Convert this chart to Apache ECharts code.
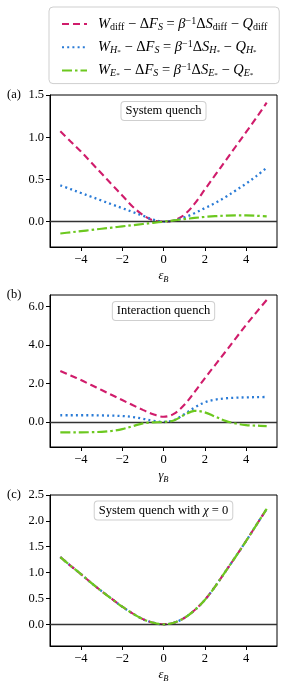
<!DOCTYPE html>
<html><head><meta charset="utf-8">
<script src="https://cdn.jsdelivr.net/npm/echarts@6/dist/echarts.min.js"></script>
<style>html,body{margin:0;padding:0;background:#fff}#c{width:286px;height:688px}</style>
</head><body><div id="c"></div>
<script>
// ---------- data ----------
const xValues = [-5,-4.5,-4,-3.5,-3,-2.5,-2,-1.5,-1,-0.5,0,0.5,1,1.5,2,2.5,3,3.5,4,4.5,5];
// (a) system quench
const aDiff = [1.07,0.95,0.83,0.70,0.57,0.44,0.31,0.18,0.08,0.015,0,0.015,0.08,0.21,0.38,0.55,0.72,0.89,1.06,1.23,1.41];
const aH    = [0.43,0.385,0.34,0.295,0.25,0.205,0.16,0.115,0.07,0.025,0,0.015,0.05,0.10,0.16,0.22,0.29,0.37,0.45,0.54,0.64];
const aE    = [-0.14,-0.126,-0.112,-0.098,-0.084,-0.07,-0.056,-0.042,-0.028,-0.014,0,0.015,0.03,0.044,0.056,0.065,0.071,0.074,0.074,0.07,0.063];
// (b) interaction quench
const bDiff = [2.65,2.42,2.18,1.92,1.66,1.40,1.14,0.88,0.63,0.40,0.27,0.42,0.88,1.55,2.27,2.96,3.65,4.35,5.04,5.70,6.34];
const bH    = [0.35,0.35,0.35,0.35,0.34,0.33,0.31,0.26,0.17,0.06,0.0,0.10,0.40,0.75,1.02,1.16,1.23,1.26,1.28,1.29,1.30];
const bE    = [-0.54,-0.54,-0.54,-0.53,-0.51,-0.46,-0.37,-0.22,-0.07,-0.02,0.0,0.08,0.36,0.58,0.50,0.28,0.06,-0.08,-0.16,-0.19,-0.21];
// (c) system quench with chi = 0 (all three coincide)
const cDiff = [1.30,1.13,0.97,0.80,0.64,0.49,0.34,0.21,0.10,0.03,0,0.03,0.12,0.27,0.47,0.73,1.02,1.31,1.61,1.92,2.23];
const cH    = cDiff.slice();
const cE    = cDiff.slice();
// ticks
const xTicks = [-4,-2,0,2,4];
const aYTicks = [0,0.5,1.0,1.5];
const bYTicks = [0,2,4,6];
const cYTicks = [0,0.5,1.0,1.5,2.0,2.5];
const panelTitles = ['System quench','Interaction quench','System quench with χ = 0'];
const panelLetters = ['(a)','(b)','(c)'];

// ---------- style ----------
const FONT = "'Liberation Serif', 'DejaVu Serif', serif";
const COL = {diff:'#d01c6b', H:'#2a7bd6', E:'#6cc81f'};
const DASH = {diff:[7,4], H:[2,3.2], E:[10,3,2.5,3]};
const WIDTH = {diff:2.1, H:2.3, E:2.2};

const rich = {
  i:{fontFamily:FONT,fontStyle:'italic',fontSize:12.5,lineHeight:16,color:'#000'},
  r:{fontFamily:FONT,fontSize:12.5,lineHeight:16,color:'#000'},
  sb:{fontFamily:FONT,fontSize:8.5,lineHeight:9,verticalAlign:'bottom',color:'#000'},
  sbi:{fontFamily:FONT,fontStyle:'italic',fontSize:8.5,lineHeight:9,verticalAlign:'bottom',color:'#000'},
  sbs:{fontFamily:FONT,fontSize:6.5,lineHeight:12,verticalAlign:'bottom',color:'#000'},
  sp:{fontFamily:FONT,fontSize:8.5,lineHeight:9,verticalAlign:'top',color:'#000'}
};
const richL = {
  i:{fontFamily:FONT,fontStyle:'italic',fontSize:14.5,lineHeight:16,color:'#000'},
  r:{fontFamily:FONT,fontSize:14.5,lineHeight:16,color:'#000'},
  sb:{fontFamily:FONT,fontSize:10,lineHeight:9,verticalAlign:'bottom',color:'#000'},
  sbi:{fontFamily:FONT,fontStyle:'italic',fontSize:10,lineHeight:9,verticalAlign:'bottom',color:'#000'},
  sbs:{fontFamily:FONT,fontSize:7,lineHeight:12,verticalAlign:'bottom',color:'#000'},
  sp:{fontFamily:FONT,fontSize:10,lineHeight:9,verticalAlign:'top',color:'#000'}
};
const legendText = {
  diff:'{i|W}{sb|diff}{r| − Δ}{i|F}{sbi|S}{r| = }{i|β}{sp|−1}{r|Δ}{i|S}{sb|diff}{r| − }{i|Q}{sb|diff}',
  H:'{i|W}{sbi|H}{sbs|*}{r| − Δ}{i|F}{sbi|S}{r| = }{i|β}{sp|−1}{r|Δ}{i|S}{sbi|H}{sbs|*}{r| − }{i|Q}{sbi|H}{sbs|*}',
  E:'{i|W}{sbi|E}{sbs|*}{r| − Δ}{i|F}{sbi|S}{r| = }{i|β}{sp|−1}{r|Δ}{i|S}{sbi|E}{sbs|*}{r| − }{i|Q}{sbi|E}{sbs|*}'
};

const fmtNum = (d) => (v) => (v < 0 ? '−' : '') + Math.abs(v).toFixed(d);

const grids = [
  {top:95, height:152},
  {top:295, height:152},
  {top:495, height:151}
].map(g => ({left:50, width:227, top:g.top, height:g.height, show:true, borderColor:'#000', borderWidth:1}));

const xNames = ['{i|ε}{sbi|B}','{i|γ}{sbi|B}','{i|ε}{sbi|B}'];
const xAxis = [0,1,2].map(i => ({
  gridIndex:i, type:'value', min:-5.5, max:5.5,
  axisLine:{show:true,onZero:false,lineStyle:{color:'#000',width:1}},
  axisTick:{show:true,customValues:xTicks,length:4,lineStyle:{color:'#000',width:1}},
  axisLabel:{customValues:xTicks,formatter:fmtNum(0),margin:6,fontFamily:FONT,fontSize:12.5,color:'#000'},
  splitLine:{show:false},
  name:xNames[i], nameLocation:'middle', nameGap:21,
  nameTextStyle:{rich:rich}
}));
const yCfg = [
  {min:-0.3,max:1.5,ticks:aYTicks,d:1},
  {min:-1.3,max:6.6,ticks:bYTicks,d:1},
  {min:-0.42,max:2.5,ticks:cYTicks,d:1}
];
const yAxis = yCfg.map((c,i) => ({
  gridIndex:i, type:'value', min:c.min, max:c.max,
  axisLine:{show:true,onZero:false,lineStyle:{color:'#000',width:1}},
  axisTick:{show:true,customValues:c.ticks,length:4,lineStyle:{color:'#000',width:1}},
  axisLabel:{customValues:c.ticks,formatter:fmtNum(c.d),margin:6,fontFamily:FONT,fontSize:12.5,color:'#000'},
  splitLine:{show:false}
}));

const panels = [
  {diff:aDiff,H:aH,E:aE},
  {diff:bDiff,H:bH,E:bE},
  {diff:cDiff,H:cH,E:cE}
];
const series = [];
panels.forEach((p,i) => {
  const order = i === 2 ? ['H','diff','E'] : ['diff','H','E'];
  order.forEach((k,j) => {
    const s = {
      name:k, type:'line', xAxisIndex:i, yAxisIndex:i,
      data:xValues.map((x,n)=>[x,p[k][n]]),
      symbol:'none', showSymbol:false, smooth:0.35, silent:true,
      lineStyle:{color:COL[k],width:WIDTH[k],type:DASH[k],cap:'butt'},
      itemStyle:{color:COL[k]},
      z:3+j
    };
    if (j === 0) {
      s.markLine = {silent:true,symbol:'none',label:{show:false},animation:false,
        lineStyle:{color:'#333',width:1.3,type:'solid'},data:[{yAxis:0}]};
    }
    series.push(s);
  });
});

const boxY = [111, 311, 510.5];
const graphic = [];
panelTitles.forEach((t,i) => {
  graphic.push({type:'text', x:163.5, y:boxY[i], z:50,
    style:{text: i===2 ? '{r|System quench with }{i|χ}{r| = 0}' : '{r|'+t+'}',
      rich:rich, align:'center', verticalAlign:'middle',
      backgroundColor:'#fff', borderColor:'#cfcfcf', borderWidth:1, borderRadius:3, padding:[1,4,1,4]}});
  graphic.push({type:'text', x:14, y:grids[i].top, z:50,
    style:{text:panelLetters[i], font:'12.5px '+FONT, fill:'#000', align:'center', verticalAlign:'middle'}});
});

const chart = echarts.init(document.getElementById('c'), null, {renderer:'canvas'});
chart.setOption({
  animation:false,
  backgroundColor:'#fff',
  grid:grids, xAxis:xAxis, yAxis:yAxis, series:series, graphic:graphic,
  legend:{
    data:['diff','H','E'], orient:'vertical', left:49, top:7,
    padding:[9,12,5,12], itemWidth:25, itemHeight:14, itemGap:7.3,
    borderColor:'#cfcfcf', borderWidth:1, borderRadius:4, backgroundColor:'#fff',
    selectedMode:false,
    itemStyle:{opacity:0},
    formatter:(n)=>legendText[n],
    textStyle:{rich:richL, padding:[0,0,0,6]}
  }
});
</script></body></html>
